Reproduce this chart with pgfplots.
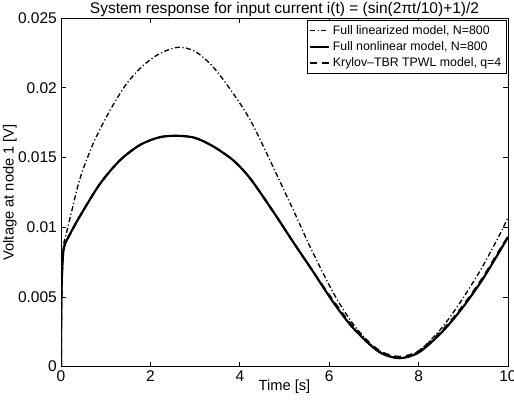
\documentclass[border=0pt]{standalone}
\usepackage{fontspec}
\setmainfont{Liberation Sans}
\usepackage{pgfplots}
\pgfplotsset{compat=1.18}

\begin{document}
\begin{tikzpicture}
\begin{axis}[
  scale only axis,
  width=268pt, height=209pt,
  xmin=0, xmax=10, ymin=0, ymax=0.025,
  xtick={0,2,...,10},
  ytick={0,0.005,0.01,0.015,0.02,0.025},
  yticklabels={0,0.005,0.01,0.015,0.02,0.025},
  scaled ticks=false,
  tick align=inside,
  major tick length=3pt,
  tick style={black, line width=0.4pt},
  axis line style={line width=0.5pt},
  /pgf/number format/assume math mode=true,
  tick label style={font=\fontsize{9.3}{10}\selectfont},
  xticklabel style={yshift=1pt},
  yticklabel style={xshift=1pt},
  title={System response for input current i(t) = (sin(2πt/10)+1)/2},
  title style={font=\fontsize{9.3}{10}\selectfont, yshift=-9pt},
  xlabel={Time [s]},
  xlabel style={font=\fontsize{8.8}{10}\selectfont, yshift=8pt},
  ylabel={Voltage at node 1 [V]},
  ylabel style={font=\fontsize{8.8}{10}\selectfont, yshift=-6pt},
  legend style={at={(0.997,0.995)}, anchor=north east,
    font=\fontsize{7.4}{8.5}\selectfont, draw=black, line width=0.4pt,
    inner sep=1pt, row sep=-1.2pt, cells={anchor=west}},
  legend image code/.code={\draw[#1] (0pt,0pt) -- (11pt,0pt);},
]
% Full linearized model
\addplot[black, line width=0.8pt, smooth, dash pattern=on 3pt off 1.5pt on 0.7pt off 1.5pt] coordinates {
(0,0) (0.01,0.0045) (0.03,0.0075) (0.06,0.0088) (0.13,0.0097) (0.25,0.0113)
(0.425,0.0135) (0.72,0.0160) (1.1,0.0184) (1.47,0.0203) (1.84,0.0216)
(2.21,0.02245) (2.62,0.0229) (3.0,0.0226) (3.4,0.0215)
(3.85,0.0196) (4.23,0.0177) (4.6,0.0153) (5.2,0.0112) (5.6,0.0084)
(6.09,0.0053) (6.5,0.0032) (6.9,0.0017) (7.2,0.0010) (7.58,0.0006)
(8.0,0.0011) (8.5,0.0027) (8.93,0.0046) (9.4,0.0070) (9.82,0.0095) (10,0.0107)
};
\addlegendentry{Full linearized model, N=800}
% Full nonlinear model
\addplot[black, line width=1.3pt, smooth] coordinates {
(0,0) (0.005,0.0040) (0.02,0.0065) (0.05,0.0082) (0.09,0.0088) (0.2,0.0095)
(0.425,0.0108) (0.87,0.0131) (1.32,0.0148) (1.77,0.0159) (2.21,0.01645)
(2.62,0.01655) (3.0,0.0164) (3.4,0.0158)
(3.85,0.0148) (4.23,0.0135) (4.75,0.0111) (5.2,0.0089) (5.6,0.0070)
(6.05,0.0048) (6.47,0.0030) (6.9,0.0016) (7.2,0.0009) (7.58,0.0006)
(8.0,0.0010) (8.5,0.0024) (8.93,0.0040) (9.4,0.0061) (9.82,0.0083) (10,0.0093)
};
\addlegendentry{Full nonlinear model, N=800}
% Krylov-TBR TPWL model
\addplot[black, line width=1.2pt, smooth, dash pattern=on 4pt off 3pt] coordinates {
(0,0) (0.005,0.0040) (0.02,0.0065) (0.05,0.0082) (0.09,0.0088) (0.2,0.0095)
(0.425,0.0108) (0.87,0.0131) (1.32,0.0148) (1.77,0.0159) (2.21,0.01645)
(2.62,0.01655) (3.0,0.0164) (3.4,0.0158)
(3.85,0.0148) (4.23,0.0135) (4.75,0.0111) (5.2,0.0089) (5.6,0.0070)
(6.05,0.0049) (6.47,0.0031) (6.9,0.0017) (7.2,0.0010) (7.58,0.0007)
(8.0,0.0011) (8.5,0.0025) (8.93,0.0041) (9.4,0.0062) (9.82,0.0084) (10,0.0093)
};
\addlegendentry{Krylov--TBR TPWL model, q=4}
\end{axis}
\pgfresetboundingbox
\path (current axis.south west) ++(-36.6pt,-19.8pt) coordinate (bbsw);
\path (current axis.north east) ++(3.6pt,10.8pt) coordinate (bbne);
\useasboundingbox (bbsw) rectangle (bbne);
\end{tikzpicture}
\end{document}
